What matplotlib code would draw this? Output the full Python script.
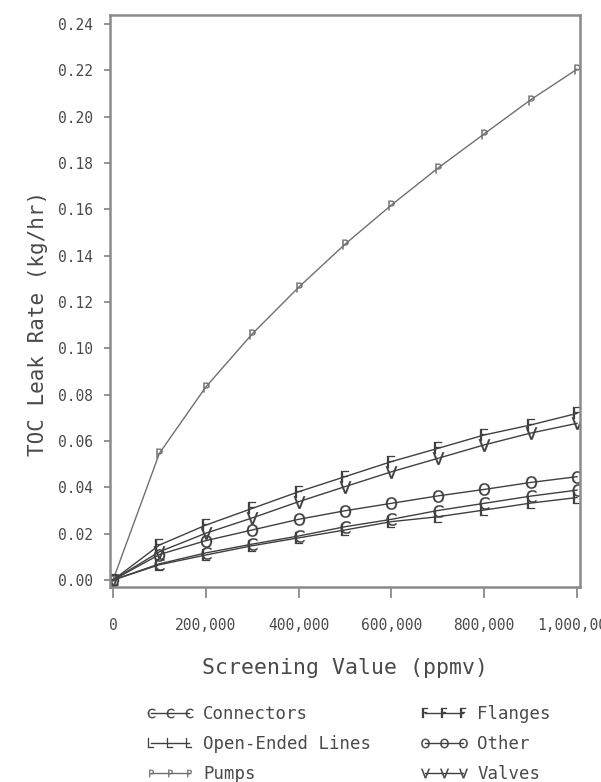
import matplotlib.pyplot as plt
from matplotlib.ticker import FuncFormatter

# screening values (ppmv)
screening = [0, 100000, 200000, 300000, 400000, 500000,
             600000, 700000, 800000, 900000, 1000000]

# TOC leak rate (kg/hr)
connectors = [0, 0.0070, 0.0117, 0.0155, 0.0190, 0.0230, 0.0262, 0.0300, 0.0331, 0.0362, 0.0388]
flanges = [0, 0.0151, 0.0237, 0.0309, 0.0381, 0.0446, 0.0511, 0.0568, 0.0626, 0.0669, 0.0719]
open_ended = [0, 0.0066, 0.0108, 0.0148, 0.0182, 0.0216, 0.0252, 0.0273, 0.0302, 0.0332, 0.0356]
other = [0, 0.0110, 0.0170, 0.0216, 0.0262, 0.0299, 0.0331, 0.0363, 0.0391, 0.0421, 0.0446]
pumps = [0, 0.0547, 0.0833, 0.1062, 0.1263, 0.1449, 0.1618, 0.1777, 0.1925, 0.2072, 0.2204]
valves = [0, 0.0122, 0.0202, 0.0268, 0.0338, 0.0403, 0.0467, 0.0525, 0.0583, 0.0634, 0.0676]

mono = 'DejaVu Sans Mono'
dark = '#404040'
light = '#707070'
spine_col = '#8a8a8a'
txt = '#4a4a4a'

fig = plt.figure(figsize=(6.01, 7.82), dpi=100)
ax = fig.add_axes([110/601, 1-587/782, 470/601, 572/782])

series = [
    (connectors, 'C', 'Connectors', dark, 9),
    (open_ended, 'L', 'Open-Ended Lines', dark, 9),
    (pumps, 'P', 'Pumps', light, 7),
    (flanges, 'F', 'Flanges', dark, 9),
    (other, 'O', 'Other', dark, 9),
    (valves, 'V', 'Valves', dark, 9),
]
for vals, letter, name, col, ms in series:
    ax.plot(screening, vals, color=col, lw=1.0,
            marker=r'$\mathsf{%s}$' % letter, ms=ms,
            mfc=col, mec=col, mew=0.2, label=name)

ax.set_xlim(-6500, 1006500)
ax.set_ylim(-0.003, 0.2438)
ax.set_xticks([0, 200000, 400000, 600000, 800000, 1000000])
ax.set_yticks([i * 0.02 for i in range(13)])
ax.xaxis.set_major_formatter(FuncFormatter(lambda v, p: f'{int(v):,}'))
ax.yaxis.set_major_formatter(FuncFormatter(lambda v, p: f'{v:.2f}'))

for s in ax.spines.values():
    s.set_color(spine_col)
    s.set_linewidth(1.8)
ax.tick_params(axis='x', direction='out', length=8, width=1.3, color=spine_col,
               pad=14, labelsize=10.5, labelcolor=txt)
ax.tick_params(axis='y', direction='out', length=4, width=1.3, color=spine_col,
               pad=8, labelsize=10.5, labelcolor=txt)
for lab in ax.get_xticklabels() + ax.get_yticklabels():
    lab.set_family(mono)

ax.set_xlabel('Screening Value (ppmv)', family=mono, fontsize=15.5,
              color=txt, labelpad=18)
ax.set_ylabel('TOC Leak Rate (kg/hr)', family=mono, fontsize=15,
              color=txt)
ax.yaxis.set_label_coords(-0.132, 0.46)

handles, labels = ax.get_legend_handles_labels()
leg = fig.legend(handles, labels, loc='upper left', ncol=2,
                 bbox_to_anchor=(146/601, 1-705/782), frameon=False,
                 prop={'family': mono, 'size': 12.5}, numpoints=3,
                 markerscale=0.75, handlelength=2.8, handletextpad=0.5,
                 columnspacing=2.8, labelspacing=0.7, borderpad=0,
                 borderaxespad=0)
for t in leg.get_texts():
    t.set_color(txt)

fig.savefig('out.png', dpi=100)
